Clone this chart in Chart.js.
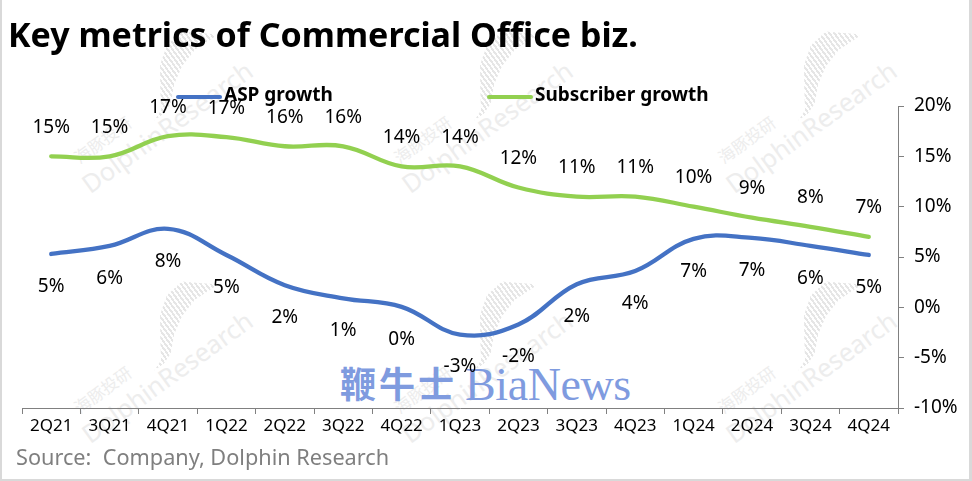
<!DOCTYPE html>
<html>
<head>
<meta charset="utf-8">
<script src="https://cdn.jsdelivr.net/npm/chart.js@4"></script>
<style>
html,body{margin:0;padding:0;background:#d9d9d9;}
body{width:972px;height:481px;overflow:hidden;position:relative;font-family:"Noto Sans",sans-serif;}
#frame{position:absolute;left:2px;top:0;width:967px;height:479px;background:#fff;}
#title{position:absolute;left:8px;top:12px;font-size:34px;font-weight:700;color:#000;white-space:nowrap;line-height:44px;}
#source{position:absolute;left:16px;top:443px;font-size:21.7px;color:#7f7f7f;white-space:nowrap;line-height:28px;}
.wm{position:absolute;color:#ededed;white-space:nowrap;transform-origin:left bottom;transform:rotate(-36deg);}
.wm.en{font-size:25.5px;line-height:25px;height:25px;}
.wm.cn{font-size:16.5px;line-height:18px;height:18px;font-family:"Noto Sans CJK SC";}
.wm.bars{width:100px;height:56px;background:repeating-linear-gradient(90deg,#e6e6e6 0 2px,#fff 2px 4px);
    clip-path:polygon(0 100%,12% 92%,24% 60%,38% 25%,55% 4%,75% 0,100% 38%,100% 42%,75% 40%,55% 50%,38% 68%,24% 92%,12% 100%);}
#logo{position:absolute;left:340px;top:358px;font-size:46px;color:#7f9bdf;white-space:nowrap;line-height:52px;font-family:"Liberation Serif",serif;letter-spacing:-.4px;}
#logo span{font-family:"Noto Sans CJK SC";font-weight:700;font-size:36px;letter-spacing:3px;margin-right:8px;position:relative;top:-2px;}
canvas{position:absolute;left:0;top:0;}
</style>
</head>
<body>
<div id="frame"></div>
<div id="marks"></div>
<div id="logo"><span>鞭牛士</span>BiaNews</div>
<div id="wrap"><canvas id="myChart" width="972" height="481"></canvas></div>
<div id="title">Key metrics of Commercial Office biz.</div>
<div id="source">Source:&nbsp; Company, Dolphin Research</div>

<script>
// data
const categories = ['2Q21','3Q21','4Q21','1Q22','2Q22','3Q22','4Q22','1Q23','2Q23','3Q23','4Q23','1Q24','2Q24','3Q24','4Q24'];
const aspGrowth = [5.3,6.1,7.8,5.2,2.2,0.9,0.05,-2.7,-1.7,2.3,3.6,6.8,6.9,6.1,5.2];
const subscriberGrowth = [15.0,15.0,17.0,16.9,16.0,16.0,14.0,14.0,11.9,11.0,11.0,10.0,8.9,8.0,7.0];
const yTicks = [20,15,10,5,0,-5,-10];

// watermark spots
const markSpots = [[92,197],[412,197],[736,197],[92,447],[412,447],[736,447]];
const marksBox = document.getElementById('marks');
markSpots.forEach(p => {
    marksBox.insertAdjacentHTML('beforeend',
        `<div class="wm en" style="left:${p[0]}px;top:${p[1]-25}px">DolphinResearch</div>` +
        `<div class="wm cn" style="left:${p[0]-11}px;top:${p[1]-49}px">海豚投研</div>` +
        `<div class="wm bars" style="left:${p[0]+62}px;top:${p[1]-132}px"></div>`);
});

// data labels, above for green and below for blue
const pointLabels = {
    id: 'pointLabels',
    afterDatasetsDraw(chart){
        const ctx = chart.ctx;
        const yScale = chart.scales.y;
        ctx.save();
        ctx.font = '19px "Noto Sans"';
        ctx.fillStyle = '#000';
        ctx.textAlign = 'center';
        ctx.textBaseline = 'middle';
        chart.data.datasets.forEach((ds, i) => {
            const meta = chart.getDatasetMeta(i);
            const shift = ds.label === 'ASP growth' ? 32.5 : -29;
            ds.data.forEach((v, j) => {
                ctx.fillText(Math.round(v) + '%', meta.data[j].x, yScale.getPixelForValue(v) + shift);
            });
        });
        ctx.restore();
    }
};

// legend sits inside the top of the chart
const topLegend = {
    id: 'topLegend',
    afterDatasetsDraw(chart){
        const ctx = chart.ctx;
        ctx.save();
        ctx.font = 'bold 19px "Noto Sans"';
        ctx.fillStyle = '#000';
        ctx.textBaseline = 'middle';
        ctx.lineWidth = 4;
        ctx.lineCap = 'round';
        [[178,'ASP growth',0],[489,'Subscriber growth',1]].forEach(item => {
            ctx.strokeStyle = chart.data.datasets[item[2]].borderColor;
            ctx.beginPath();
            ctx.moveTo(item[0], 97);
            ctx.lineTo(item[0] + 42, 97);
            ctx.stroke();
            ctx.fillText(item[1], item[0] + 46, 96);
        });
        ctx.restore();
    }
};

new Chart(document.getElementById('myChart'), {
    type: 'line',
    data: {
        labels: categories,
        datasets: [
            { label: 'ASP growth', data: aspGrowth, borderColor: '#4472c4', borderWidth: 4.3, tension: 0.4, pointRadius: 0, borderCapStyle: 'round', fill: false },
            { label: 'Subscriber growth', data: subscriberGrowth, borderColor: '#92d050', borderWidth: 4.3, tension: 0.4, pointRadius: 0, borderCapStyle: 'round', fill: false }
        ]
    },
    options: {
        responsive: false,
        animation: false,
        layout: { padding: { left: 22, top: 106, right: 0, bottom: 0 } },
        plugins: { legend: { display: false }, tooltip: { enabled: false } },
        scales: {
            x: {
                offset: true,
                border: { color: '#808080', width: 1 },
                grid: { offset: true, drawOnChartArea: false, tickLength: 6, tickColor: '#808080', drawTicks: true },
                ticks: { font: { family: 'Noto Sans', size: 17 }, color: '#000', maxRotation: 0, autoSkip: false, padding: 2 },
                afterFit(s){ s.height = 73; }
            },
            y: {
                position: 'right',
                min: -10,
                max: 20,
                border: { color: '#808080', width: 1 },
                grid: { drawOnChartArea: false, tickLength: 6, tickColor: '#808080' },
                afterBuildTicks(s){ s.ticks = yTicks.map(v => ({ value: v })); },
                ticks: { font: { family: 'Noto Sans', size: 19 }, color: '#000', padding: 10, callback: v => v + '%' },
                afterFit(s){ s.width = 74; }
            }
        }
    },
    plugins: [pointLabels, topLegend]
});
</script>
</body>
</html>
